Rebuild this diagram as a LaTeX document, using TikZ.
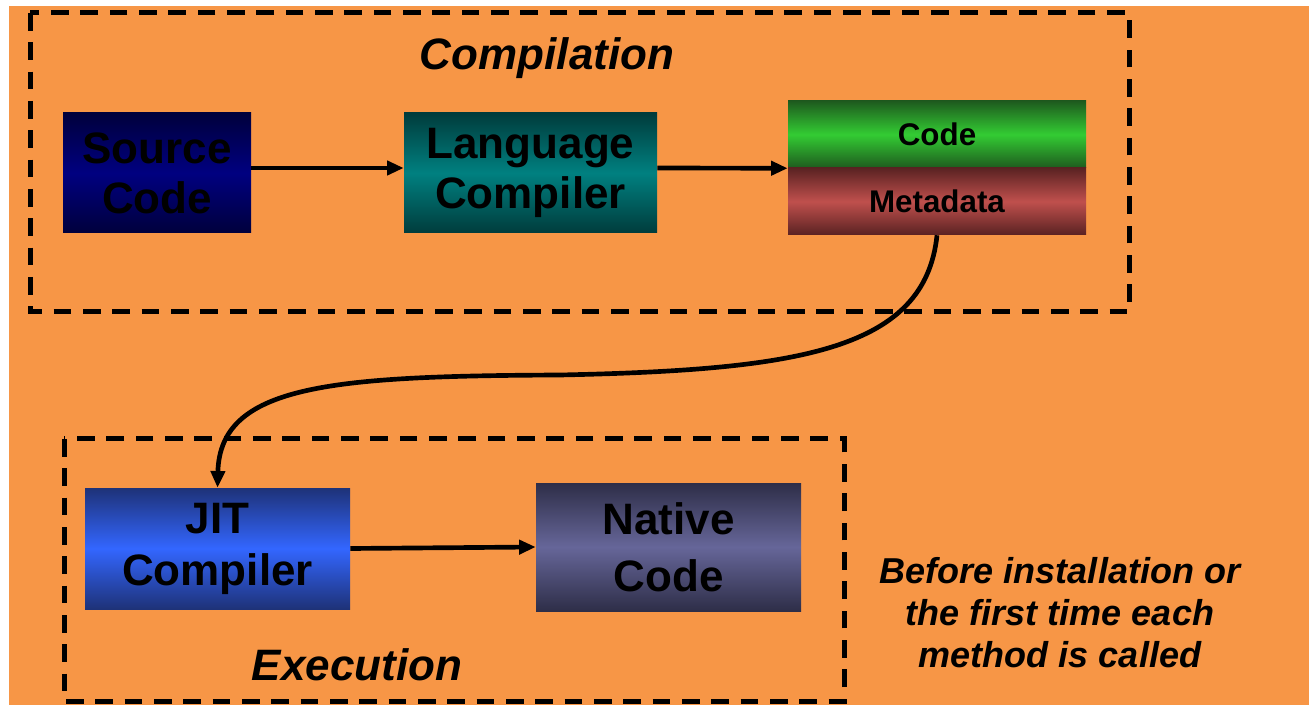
\documentclass[tikz,border=0pt]{standalone}
\usepackage{fontspec}
\setmainfont{Liberation Sans}
\usetikzlibrary{arrows.meta,calc}
\definecolor{bgorange}{HTML}{F79646}
\definecolor{srcedge}{HTML}{00003C}
\definecolor{srcmid}{HTML}{000080}
\definecolor{langedge}{HTML}{003C3C}
\definecolor{langmid}{HTML}{008080}
\definecolor{codeedge}{HTML}{1E5A1E}
\definecolor{codemid}{HTML}{33CC33}
\definecolor{metaedge}{HTML}{5A2222}
\definecolor{metamid}{HTML}{C0504D}
\definecolor{jitedge}{HTML}{1E3278}
\definecolor{jitmid}{HTML}{3366FF}
\definecolor{natedge}{HTML}{2E2E48}
\definecolor{natmid}{HTML}{666699}
\begin{document}
\begin{tikzpicture}[x=0.75pt,y=-0.75pt,
  box/.style={inner sep=0pt, align=center, text=black,
    font=\fontsize{33}{37.5}\selectfont\bfseries},
  smallbox/.style={inner sep=0pt, align=center, text=black,
    font=\fontsize{23.5}{27}\selectfont\bfseries},
  grp/.style={draw=black, line width=3.75pt, dash pattern=on 13.3pt off 8.7pt},
  arr/.style={draw=black, line width=3.5pt, -{Triangle[length=12.5pt,width=10.5pt]}},
  title/.style={font=\fontsize{33}{37.5}\selectfont\bfseries\itshape, text=black},
  note/.style={font=\fontsize{27}{31.5}\selectfont\bfseries\itshape, text=black, align=center},
  shade3/.style 2 args={top color=#1, bottom color=#1, middle color=#2}]

\useasboundingbox (0,0) rectangle (1309,705);
\fill[white] (0,0) rectangle (1309,705);
\fill[bgorange] (9,6) rectangle (1309,705);

% group frames
\draw[grp] (30,13) rectangle (1129,312);
\draw[grp] (64,439) rectangle (844,701);

% titles
\node[title] (tcomp) at (547,58) {Compilation};
\node[title] (texec) at (357,665) {Execution};

% boxes
\node[box, shade3={srcedge}{srcmid}, minimum width=141pt, minimum height=90pt] (src) at (157,173) {Source\\Code};
\node[box, shade3={langedge}{langmid}, minimum width=189.75pt, minimum height=90pt] (lang) at (530.5,173) {Language\\Compiler};
\node[smallbox, shade3={codeedge}{codemid}, minimum width=223.5pt, minimum height=50.25pt] (code) at (937,134.5) {Code};
\node[smallbox, shade3={metaedge}{metamid}, minimum width=223.5pt, minimum height=50.25pt] (meta) at (937,201.5) {Metadata};
\node[box, shade3={jitedge}{jitmid}, minimum width=198.75pt, minimum height=90.75pt, font=\fontsize{33}{39}\selectfont\bfseries] (jit) at (217.5,548.5) {JIT\\Compiler};
\node[box, shade3={natedge}{natmid}, minimum width=198.75pt, minimum height=96pt, font=\fontsize{33}{43}\selectfont\bfseries] (nat) at (668.5,547) {Native\\Code};

% note
\node[note] (note) at (1060,613) {Before installation or\\the first time each\\method is called};

% connectors
\draw[arr] ([yshift=3.75pt]src.east) -- ([yshift=3.75pt]lang.west);
\draw[arr] ([yshift=3.75pt]lang.east) -- (code.south west);
\draw[arr] (meta.south) .. controls (925,350) and (800,370) .. (560,375)
   .. controls (330,376) and (220,385) .. (jit.north);
\draw[arr] (jit.east) -- (nat.west);
\end{tikzpicture}
\end{document}
